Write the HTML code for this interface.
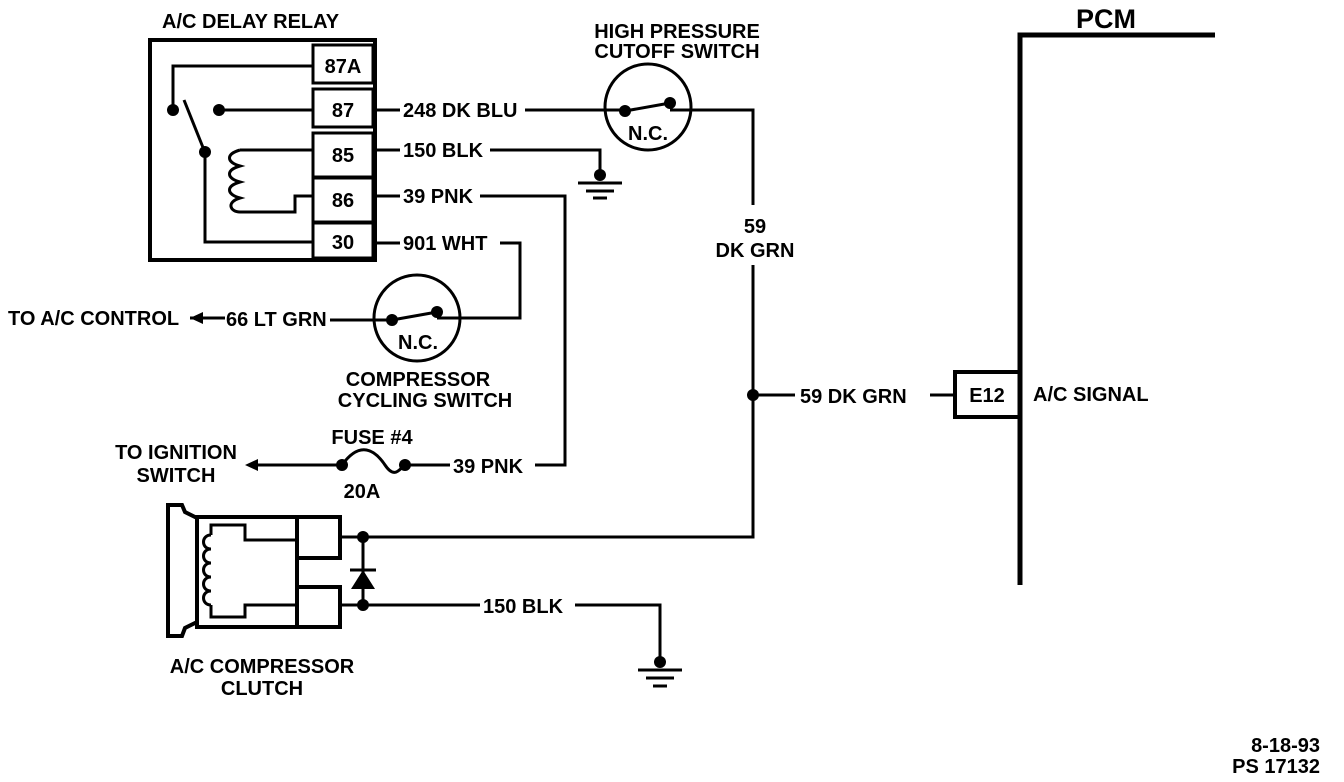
<!DOCTYPE html>
<html><head><meta charset="utf-8"><style>
html,body{margin:0;padding:0;background:#fff;}
svg{display:block;}
text{font-family:"Liberation Sans",sans-serif;font-weight:bold;font-size:20px;fill:#000;}
</style></head><body>
<svg width="1344" height="782" viewBox="0 0 1344 782" xmlns="http://www.w3.org/2000/svg">
<g stroke="#000" fill="none" stroke-width="3">
<!-- relay -->
<rect x="150" y="40" width="225" height="220" stroke-width="4"/>
<rect x="313" y="45" width="60" height="38"/>
<rect x="313" y="89" width="60" height="38"/>
<rect x="313" y="133" width="60" height="44"/>
<rect x="313" y="178" width="60" height="44"/>
<rect x="313" y="223" width="60" height="35"/>
<polyline points="313,66 173,66 173,108"/>
<line x1="219" y1="110" x2="313" y2="110"/>
<line x1="184" y1="100" x2="204" y2="150"/>
<polyline points="205,152 205,242 313,242"/>
<polyline points="313,150 240,150"/>
<path d="M240,150 c-14,4 -14,12 0,16 c-14,4 -14,12 0,16 c-14,4 -14,12 0,16 c-14,4 -10,14 0,14 L295,212 L295,196 L313,196"/>
<line x1="375" y1="110" x2="400" y2="110"/>
<line x1="375" y1="150" x2="400" y2="150"/>
<line x1="375" y1="196" x2="400" y2="196"/>
<line x1="375" y1="243" x2="400" y2="243"/>
<line x1="525" y1="110" x2="625" y2="110"/>
<polyline points="490,150 600,150 600,175"/>
<polyline points="480,196 565,196 565,465 535,465"/>
<polyline points="500,243 520,243 520,318 437,318"/>
<!-- HP switch -->
<circle cx="648" cy="107" r="43"/>
<line x1="625" y1="111" x2="670" y2="103"/>
<polyline points="670,110 753,110 753,205"/>
<polyline points="753,265 753,537 347,537"/>
<line x1="753" y1="395" x2="795" y2="395"/>
<line x1="930" y1="395" x2="955" y2="395"/>
<rect x="955" y="372" width="65" height="45" stroke-width="4"/>
<polyline points="1020,585 1020,35 1215,35" stroke-width="5"/>
<line x1="578" y1="183" x2="622" y2="183"/>
<line x1="586" y1="191" x2="614" y2="191"/>
<line x1="593" y1="198" x2="607" y2="198"/>
<!-- cycling switch -->
<circle cx="417" cy="318" r="43"/>
<line x1="392" y1="320" x2="437" y2="312"/>
<line x1="330" y1="320" x2="392" y2="320"/>
<line x1="190" y1="318" x2="225" y2="318"/>
<!-- fuse -->
<line x1="405" y1="465" x2="450" y2="465"/>
<path d="M342,465 C360,440 375,450 385,465 C395,480 400,468 405,465"/>
<line x1="250" y1="465" x2="342" y2="465"/>
<!-- clutch -->
<rect x="197" y="517" width="100" height="110" stroke-width="4"/>
<rect x="297" y="517" width="43" height="41" stroke-width="4"/>
<rect x="297" y="587" width="43" height="40" stroke-width="4"/>
<polyline points="297,540 245,540 245,525 211,525 211,535"/>
<path d="M211,535 c-10,0 -10,14 0,14 c-10,0 -10,14 0,14 c-10,0 -10,14 0,14 c-10,0 -10,14 0,14 c-10,0 -10,14 0,14"/>
<polyline points="211,605 211,617 245,617 245,605 297,605"/>
<polygon points="168,505 182,505 185,512 197,518 197,622 185,628 182,636 168,636" stroke-width="4"/>
<line x1="340" y1="537" x2="367" y2="537"/>
<line x1="340" y1="605" x2="367" y2="605"/>
<line x1="363" y1="537" x2="363" y2="605"/>
<line x1="350" y1="570" x2="376" y2="570"/>
<line x1="363" y1="605" x2="480" y2="605"/>
<polyline points="575,605 660,605 660,662"/>
<line x1="638" y1="670" x2="682" y2="670"/>
<line x1="646" y1="678" x2="674" y2="678"/>
<line x1="653" y1="686" x2="667" y2="686"/>
</g>
<g fill="#000">
<circle cx="173" cy="110" r="6"/><circle cx="219" cy="110" r="6"/><circle cx="205" cy="152" r="6"/>
<circle cx="625" cy="111" r="6"/><circle cx="670" cy="103" r="6"/>
<circle cx="600" cy="175" r="6"/>
<circle cx="392" cy="320" r="6"/><circle cx="437" cy="312" r="6"/>
<circle cx="342" cy="465" r="6"/><circle cx="405" cy="465" r="6"/>
<circle cx="753" cy="395" r="6"/>
<circle cx="363" cy="537" r="6"/><circle cx="363" cy="605" r="6"/>
<circle cx="660" cy="662" r="6"/>
<polygon points="351,589 375,589 363,570"/>
<polygon points="190,318 203,312 203,324"/>
<polygon points="245,465 258,459 258,471"/>
</g>
<text x="162" y="28">A/C DELAY RELAY</text>
<text x="343" y="73" text-anchor="middle">87A</text>
<text x="343" y="117" text-anchor="middle">87</text>
<text x="343" y="162" text-anchor="middle">85</text>
<text x="343" y="207" text-anchor="middle">86</text>
<text x="343" y="249" text-anchor="middle">30</text>
<text x="403" y="117">248 DK BLU</text>
<text x="403" y="157">150 BLK</text>
<text x="403" y="203">39 PNK</text>
<text x="403" y="250">901 WHT</text>
<text x="677" y="38" text-anchor="middle">HIGH PRESSURE</text>
<text x="677" y="58" text-anchor="middle">CUTOFF SWITCH</text>
<text x="648" y="140" text-anchor="middle">N.C.</text>
<text x="418" y="349" text-anchor="middle">N.C.</text>
<text x="8" y="325">TO A/C CONTROL</text>
<text x="226" y="326">66 LT GRN</text>
<text x="418" y="386" text-anchor="middle">COMPRESSOR</text>
<text x="425" y="407" text-anchor="middle">CYCLING SWITCH</text>
<text x="755" y="233" text-anchor="middle">59</text>
<text x="755" y="257" text-anchor="middle">DK GRN</text>
<text x="800" y="403">59 DK GRN</text>
<text x="987" y="402" text-anchor="middle">E12</text>
<text x="1033" y="401">A/C SIGNAL</text>
<text x="1106" y="28" text-anchor="middle" style="font-size:27px">PCM</text>
<text x="176" y="459" text-anchor="middle">TO IGNITION</text>
<text x="176" y="482" text-anchor="middle">SWITCH</text>
<text x="372" y="444" text-anchor="middle">FUSE #4</text>
<text x="362" y="498" text-anchor="middle">20A</text>
<text x="453" y="473">39 PNK</text>
<text x="483" y="613">150 BLK</text>
<text x="262" y="673" text-anchor="middle">A/C COMPRESSOR</text>
<text x="262" y="695" text-anchor="middle">CLUTCH</text>
<text x="1320" y="752" text-anchor="end">8-18-93</text>
<text x="1320" y="773" text-anchor="end">PS 17132</text>
</svg>
</body></html>
